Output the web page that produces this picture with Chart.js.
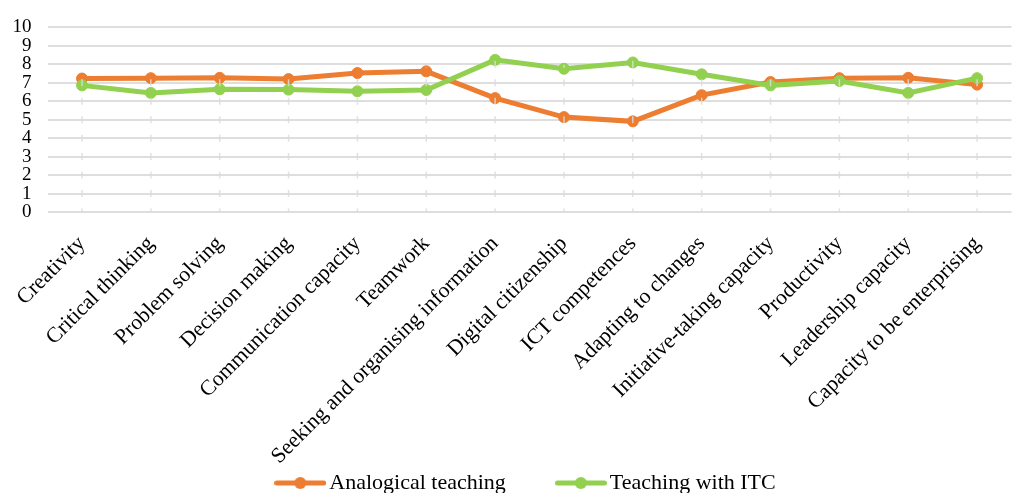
<!DOCTYPE html>
<html>
<head>
<meta charset="utf-8">
<script src="https://cdn.jsdelivr.net/npm/chart.js@4/dist/chart.umd.min.js"></script>
<style>
  html, body { margin: 0; padding: 0; background: #fff; overflow: hidden; }
  #wrap { width: 1018px; height: 493px; position: relative; }
</style>
</head>
<body>
<div id="wrap"><canvas id="c" width="1018" height="493"></canvas></div>
<script>
const categories = [
  "Creativity", "Critical thinking", "Problem solving", "Decision making",
  "Communication capacity", "Teamwork", "Seeking and organising information",
  "Digital citizenship", "ICT competences", "Adapting to changes",
  "Initiative-taking capacity", "Productivity", "Leadership capacity",
  "Capacity to be enterprising"
];
const analogicalTeaching = [7.23, 7.25, 7.27, 7.2, 7.53, 7.62, 6.17, 5.14, 4.91, 6.33, 7.04, 7.25, 7.27, 6.9];
const teachingWithITC   = [6.86, 6.45, 6.65, 6.63, 6.54, 6.61, 8.24, 7.76, 8.1, 7.46, 6.86, 7.1, 6.45, 7.25];
const seriesNames = ["Analogical teaching", "Teaching with ITC"];
const yTicks = [0, 1, 2, 3, 4, 5, 6, 7, 8, 9, 10];

const ORANGE = "#ED7D31";
const GREEN = "#92D050";
const FONT = "'Liberation Serif', 'Times New Roman', serif";

function legendIcon(color) {
  const c = document.createElement("canvas");
  c.width = 52; c.height = 14;
  const g = c.getContext("2d");
  g.strokeStyle = color; g.lineWidth = 5; g.lineCap = "round";
  g.beginPath(); g.moveTo(2.5, 7); g.lineTo(49.5, 7); g.stroke();
  g.fillStyle = color;
  g.beginPath(); g.arc(26, 7, 6, 0, Math.PI * 2); g.fill();
  return c;
}
const icons = [legendIcon(ORANGE), legendIcon(GREEN)];

const dropLines = {
  id: "dropLines",
  afterDatasetsDraw(chart) {
    const x = chart.scales.x, y = chart.scales.y;
    const ctx = chart.ctx;
    const unit = y.getPixelForValue(0) - y.getPixelForValue(1);
    const dash = 7;
    ctx.save();
    ctx.strokeStyle = "rgba(220,220,220,0.85)";
    ctx.lineWidth = 1.5;
    ctx.setLineDash([dash, unit - dash]);
    ctx.lineDashOffset = dash / 2;
    categories.forEach((_, i) => {
      const top = Math.max(analogicalTeaching[i], teachingWithITC[i]);
      const px = x.getPixelForValue(i);
      ctx.beginPath();
      ctx.moveTo(px, y.getPixelForValue(0));
      ctx.lineTo(px, y.getPixelForValue(top) - 4);
      ctx.stroke();
    });
    ctx.restore();
  }
};

// Legend placement tweaks (position only) and let x labels run past the axis box.
const layoutTweaks = {
  id: "layoutTweaks",
  afterLayout(chart) {
    const lg = chart.legend;
    if (lg) {
      const h = lg.bottom - lg.top;
      lg.left += 21; lg.right += 21;
      lg.top = 415; lg.bottom = 415 + h;
    }
    chart.scales.x.bottom = chart.height;
  }
};

new Chart(document.getElementById("c"), {
  type: "line",
  data: {
    labels: categories,
    datasets: [
      {
        label: seriesNames[0], data: analogicalTeaching,
        borderColor: ORANGE, backgroundColor: ORANGE,
        borderWidth: 5, pointRadius: 5.5, pointBorderWidth: 1,
        pointBackgroundColor: ORANGE, pointBorderColor: ORANGE,
        pointStyle: "circle", tension: 0, order: 1
      },
      {
        label: seriesNames[1], data: teachingWithITC,
        borderColor: GREEN, backgroundColor: GREEN,
        borderWidth: 5, pointRadius: 5.5, pointBorderWidth: 1,
        pointBackgroundColor: GREEN, pointBorderColor: GREEN,
        pointStyle: "circle", tension: 0, order: 0
      }
    ]
  },
  options: {
    responsive: false,
    animation: false,
    layout: { padding: { top: 24, right: 2, left: 0, bottom: 0 } },
    scales: {
      x: {
        offset: true,
        grid: { display: false, drawTicks: false, offset: true },
        border: { display: false },
        ticks: {
          autoSkip: false, maxRotation: 45, minRotation: 45,
          color: "#000", padding: 19,
          font: { family: FONT, size: 21.7 }
        },
        afterFit(scale) { scale.height = 192; }
      },
      y: {
        min: 0, max: 10,
        grid: { color: "#dedede", lineWidth: 2, drawTicks: false },
        border: { display: false },
        afterBuildTicks(scale) { scale.ticks = yTicks.map(v => ({ value: v })); },
        ticks: {
          autoSkip: false, stepSize: 1,
          color: "#000", padding: 16,
          font: { family: FONT, size: 19 }
        },
        afterFit(scale) { scale.width = 47; }
      }
    },
    plugins: {
      tooltip: { enabled: false },
      legend: {
        position: "bottom",
        labels: {
          usePointStyle: true,
          pointStyleWidth: 36,
          padding: 57,
          color: "#000",
          font: { family: FONT, size: 22 },
          sort: (a, b) => a.datasetIndex - b.datasetIndex,
          generateLabels(chart) {
            return chart.data.datasets.map((ds, i) => ({
              text: ds.label, pointStyle: icons[i], fillStyle: ds.borderColor,
              strokeStyle: ds.borderColor, lineWidth: 0, hidden: false,
              datasetIndex: i, fontColor: "#000"
            }));
          }
        }
      }
    }
  },
  plugins: [dropLines, layoutTweaks]
});
</script>
</body>
</html>
